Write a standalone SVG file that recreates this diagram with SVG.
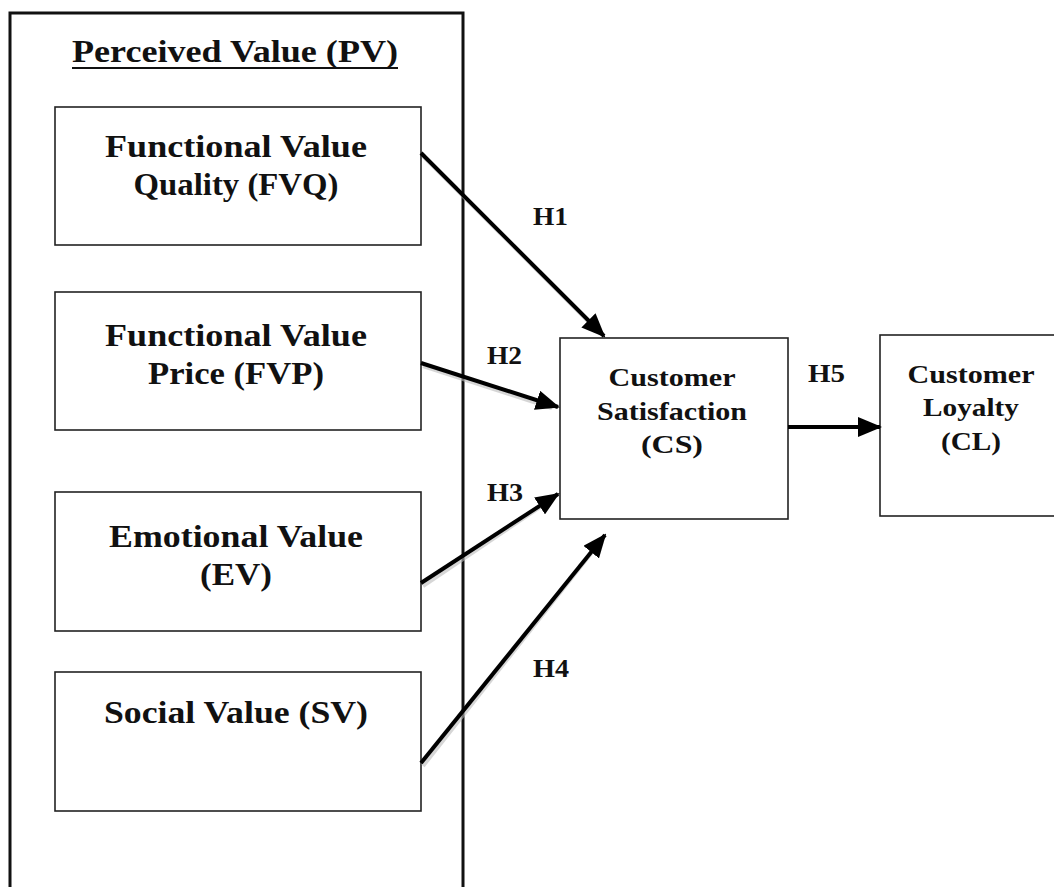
<svg xmlns="http://www.w3.org/2000/svg" width="1054" height="887" viewBox="0 0 1054 887">
  <style>
    .box { fill: #fff; stroke: #222; stroke-width: 1.6; }
    .frame { fill: none; stroke: #111; stroke-width: 3; }
    .lbl { font-family: "Liberation Serif", "Times New Roman", serif; font-weight: bold; fill: #111; text-anchor: middle; }
    .big { font-size: 31px; }
    .mid { font-size: 26px; }
    .hyp { font-family: "Liberation Serif", "Times New Roman", serif; font-weight: bold; fill: #111; font-size: 26px; }
    .arrow { stroke: #000; stroke-width: 4; fill: none; marker-end: url(#head); }
    .shadow { stroke: #bbb; stroke-width: 4; fill: none; opacity: 0.6; }
  </style>
  <defs>
    <marker id="head" markerWidth="6" markerHeight="5" refX="5.5" refY="2.5" orient="auto" markerUnits="strokeWidth">
      <path d="M0,0 L6,2.5 L0,5 Z" fill="#000"/>
    </marker>
  </defs>
  <rect width="1054" height="887" fill="#fff"/>

  <!-- perceived value frame -->
  <g id="pv">
    <rect class="frame" x="10" y="13" width="453" height="900"/>
    <text class="lbl big" x="235" y="62" textLength="326" lengthAdjust="spacingAndGlyphs">Perceived Value (PV)</text>
    <line x1="72" y1="68" x2="398" y2="68" stroke="#111" stroke-width="2"/>
  </g>

  <g id="fvq">
    <rect class="box" x="55" y="107" width="366" height="138"/>
    <text class="lbl big" x="236" y="157" textLength="262" lengthAdjust="spacingAndGlyphs">Functional Value</text>
    <text class="lbl big" x="236" y="195" textLength="205" lengthAdjust="spacingAndGlyphs">Quality (FVQ)</text>
  </g>

  <g id="fvp">
    <rect class="box" x="55" y="292" width="366" height="138"/>
    <text class="lbl big" x="236" y="346" textLength="262" lengthAdjust="spacingAndGlyphs">Functional Value</text>
    <text class="lbl big" x="236" y="384" textLength="176" lengthAdjust="spacingAndGlyphs">Price (FVP)</text>
  </g>

  <g id="ev">
    <rect class="box" x="55" y="492" width="366" height="139"/>
    <text class="lbl big" x="236" y="547" textLength="254" lengthAdjust="spacingAndGlyphs">Emotional Value</text>
    <text class="lbl big" x="236" y="585" textLength="72" lengthAdjust="spacingAndGlyphs">(EV)</text>
  </g>

  <g id="sv">
    <rect class="box" x="55" y="672" width="366" height="139"/>
    <text class="lbl big" x="236" y="723" textLength="264" lengthAdjust="spacingAndGlyphs">Social Value (SV)</text>
  </g>

  <g id="cs">
    <rect class="box" x="560" y="338" width="228" height="181"/>
    <text class="lbl mid" x="672" y="386" textLength="127" lengthAdjust="spacingAndGlyphs">Customer</text>
    <text class="lbl mid" x="672" y="420" textLength="150" lengthAdjust="spacingAndGlyphs">Satisfaction</text>
    <text class="lbl mid" x="672" y="453" textLength="62" lengthAdjust="spacingAndGlyphs">(CS)</text>
  </g>

  <g id="cl">
    <rect class="box" x="880" y="335" width="190" height="181"/>
    <text class="lbl mid" x="971" y="383" textLength="127" lengthAdjust="spacingAndGlyphs">Customer</text>
    <text class="lbl mid" x="971" y="416" textLength="96" lengthAdjust="spacingAndGlyphs">Loyalty</text>
    <text class="lbl mid" x="971" y="450" textLength="60" lengthAdjust="spacingAndGlyphs">(CL)</text>
  </g>

  <!-- hypothesis paths -->
  <g id="connectors">
    <line class="shadow" x1="423" y1="156" x2="601" y2="334"/>
    <line class="shadow" x1="423" y1="366" x2="552" y2="408"/>
    <line class="shadow" x1="423" y1="586" x2="552" y2="499"/>
    <line class="shadow" x1="423" y1="766" x2="600" y2="542"/>
    <line class="arrow" x1="421" y1="153" x2="604" y2="336"/>
    <line class="arrow" x1="421" y1="363" x2="558" y2="407"/>
    <line class="arrow" x1="421" y1="583" x2="558" y2="494"/>
    <line class="arrow" x1="421" y1="763" x2="605" y2="535"/>
    <line class="arrow" x1="788" y1="427" x2="880" y2="427"/>
    <text class="hyp" x="533" y="225" textLength="35" lengthAdjust="spacingAndGlyphs">H1</text>
    <text class="hyp" x="487" y="364" textLength="35" lengthAdjust="spacingAndGlyphs">H2</text>
    <text class="hyp" x="487" y="501" textLength="36" lengthAdjust="spacingAndGlyphs">H3</text>
    <text class="hyp" x="533" y="677" textLength="36" lengthAdjust="spacingAndGlyphs">H4</text>
    <text class="hyp" x="808" y="382" textLength="37" lengthAdjust="spacingAndGlyphs">H5</text>
  </g>
</svg>
